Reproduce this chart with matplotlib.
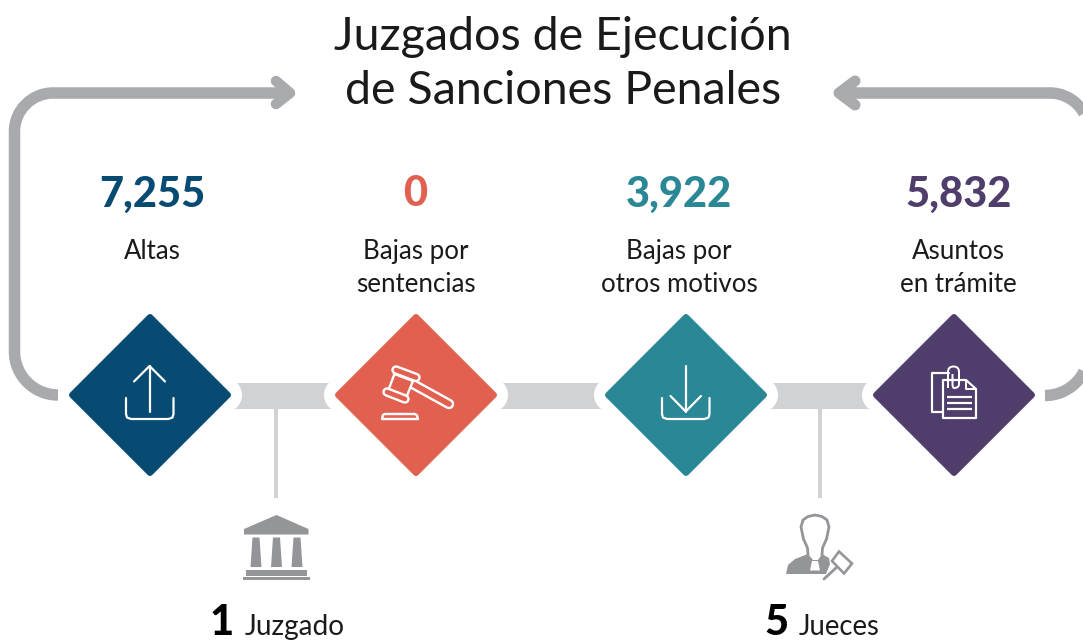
import matplotlib
matplotlib.use("Agg")
import matplotlib.pyplot as plt
from matplotlib.patches import Polygon, Circle, Rectangle
from matplotlib.path import Path

plt.rcParams["font.family"] = ["Lato", "DejaVu Sans"]

# Data
title_lines = ["Juzgados de Ejecución", "de Sanciones Penales"]
values = [7255, 0, 3922, 5832]
labels = [["Altas"], ["Bajas por", "sentencias"], ["Bajas por", "otros motivos"], ["Asuntos", "en trámite"]]
colors = ["#074B73", "#E1604F", "#2A8795", "#4F3E6B"]
juzgados = 1
jueces = 5

centers = [150, 416, 686, 954]
text_x = [152, 415.5, 679, 958.5]
mid_y = 395
GREY_ARROW = "#A9AAAD"
GREY_BAR = "#D1D2D4"
GREY_ICON = "#939598"
TEXT = "#1A1A1A"
PX = 0.72  # pixels to points at dpi 100

fig = plt.figure(figsize=(10.83, 6.4), dpi=100)
ax = fig.add_axes([0, 0, 1, 1])
ax.set_xlim(0, 1083)
ax.set_ylim(640, 0)
ax.axis("off")


def line(pts, color="white", w=2.2, z=6, cap="round"):
    xs = [p[0] for p in pts]
    ys = [p[1] for p in pts]
    ax.plot(xs, ys, color=color, lw=w * PX, solid_capstyle=cap, solid_joinstyle="round", zorder=z)


# flatten curves to a polyline, agg clips raw control points at the canvas edge otherwise
def stroke_path(verts, codes, color=GREY_ARROW, w=11.5, z=1):
    pts = Path(verts, codes).to_polygons(closed_only=False)[0]
    line(pts, color, w, z, cap="butt")


# return arrows
M, L, C, C4 = Path.MOVETO, Path.LINETO, Path.CURVE3, Path.CURVE4
stroke_path([(58, 395), (34, 395), (14.5, 375.5), (14.5, 351.5), (14.5, 131.5), (14.5, 110), (32, 93), (53, 93), (290, 93)],
            [M, C4, C4, C4, L, C4, C4, C4, L])
line([(276, 81), (290, 93), (276, 104)], GREY_ARROW, 10.5, 1)
stroke_path([(1045, 395.5), (1069, 395.5), (1088.7, 376), (1088.7, 351.8), (1088.7, 131.7), (1088.7, 110), (1071, 93), (1050, 93), (840, 93)],
            [M, C4, C4, C4, L, C4, C4, C4, L])
line([(855, 81), (839, 93), (855, 105)], GREY_ARROW, 11, 1)

# connectors between the diamonds
for a, b in zip(centers[:-1], centers[1:]):
    ax.add_patch(Rectangle((a + 80, 383), b - a - 160, 26, fc=GREY_BAR, ec="none", zorder=2))
    ax.add_patch(Circle((a + 75, mid_y), 17, fc="white", ec="none", zorder=3))
    ax.add_patch(Circle((b - 75, mid_y), 17, fc="white", ec="none", zorder=3))
for x in [276, 820]:
    ax.add_patch(Rectangle((x - 2, 409), 4, 89, fc=GREY_BAR, ec="none", zorder=2))

# diamonds and numbers
for cx, tx, v, lab, col in zip(centers, text_x, values, labels, colors):
    r = 78
    ax.add_patch(Polygon([(cx - r, mid_y), (cx, mid_y - r), (cx + r, mid_y), (cx, mid_y + r)],
                         closed=True, fc=col, ec=col, lw=6 * PX, joinstyle="round", zorder=4))
    ax.text(tx, 206.5, f"{v:,}", color=col, fontsize=30, fontweight="black", ha="center", va="baseline")
    for i, t in enumerate(lab):
        ax.text(tx, 259 + i * 32.5, t, color=TEXT, fontsize=18.6, ha="center", va="baseline")

# upload icon
line([(149.5, 366), (149.5, 411.5)])
line([(134, 381.5), (149.5, 366), (165, 381.5)])
tray = lambda x0, x1: [(x0, 398), (x0, 414), (x0 + 1, 417.5), (x0 + 5, 419), (x1 - 5, 419), (x1 - 1, 417.5), (x1, 414), (x1, 398)]
line(tray(126, 173.5))

# download icon
line([(685.7, 366), (685.7, 411.5)])
line([(670.5, 396), (685.7, 411.5), (701, 396)])
line(tray(662, 709.5))


# gavel icon
def pill(p, q, width, fill):
    line([p, q], "white", width, 6)
    line([p, q], fill, width - 4.8, 6)


red = colors[1]
gavel_body = [(394.5, 374), (413, 381), (406, 398), (388, 391)]
pill((411, 383), (449, 404), 10.5, red)
ax.add_patch(Polygon(gavel_body, closed=True, fc=red, ec="white", lw=2.4 * PX, zorder=6))
pill((396, 370), (416, 377.5), 9.5, red)
pill((387, 392), (405, 399), 9.5, red)
ax.add_patch(Polygon([(382, 419), (383, 415), (384.5, 414), (415, 414), (417, 415.5), (418, 419)], closed=True,
                     fc=red, ec="white", lw=2.4 * PX, joinstyle="round", zorder=6))

# clipboard icon
purple = colors[3]
line([(950, 412), (931.5, 412), (931.5, 372.5), (949, 372.5)])
ax.add_patch(Polygon([(943, 380), (966, 380), (976, 389), (976, 418), (943, 418)], closed=True,
                     fc=purple, ec="white", lw=2.2 * PX, joinstyle="round", zorder=6))
line([(966, 380), (966, 389), (976, 389)], w=2, z=7)
for y in [396.5, 402.5, 409]:
    line([(947, y), (972, y)], w=2.2, z=7, cap="butt")
stroke_path([(948, 388), (948, 372), (948, 366.5), (953.5, 366.5), (959, 366.5), (959, 372), (959, 384), (959, 388), (954, 388), (952.5, 388), (952.5, 384), (952.5, 374)],
            [M, L, C, C, C, C, L, C, C, C, C, L], color="white", w=2, z=8)

# courthouse icon
gi = GREY_ICON
ax.add_patch(Polygon([(244, 529), (244, 534.5), (308.5, 534.5), (308.5, 529), (276.5, 515)], closed=True, fc=gi, ec="none"))
for cx in [256, 276.5, 297]:
    ax.add_patch(Polygon([(cx - 3.5, 537.5), (cx + 3.5, 537.5), (cx + 5.5, 567), (cx - 5.5, 567)], closed=True, fc=gi, ec="none"))
ax.add_patch(Rectangle((246, 570), 61, 6, fc=gi, ec="none"))
ax.add_patch(Rectangle((243, 577), 67, 3, fc=gi, ec="none"))

# judge icon
line([(808, 555), (807.5, 548), (803.5, 539), (801, 527), (803, 520), (808, 516.5), (815, 515), (822, 516.5), (827, 520),
      (829, 527), (826.5, 539), (822.5, 548), (822, 555)], gi, 2.8)
ax.add_patch(Polygon([(786, 574), (788, 565), (795, 559), (808, 554), (813, 560), (818, 560), (822, 554),
                      (829, 558), (830, 564), (826, 574)], closed=True, fc=gi, ec="none", zorder=5))
ax.add_patch(Polygon([(812, 561), (818, 561), (820, 570.5), (810, 570.5)], closed=True, fc="white", ec="none", zorder=6))
ax.add_patch(Polygon([(839, 551.5), (852, 563.5), (844, 573.5), (832, 561)], closed=True, fc="white", ec=gi, lw=2.6 * PX, zorder=6))
line([(837, 567), (824, 579)], gi, 2.8)

# titles and bottom counts
for t, y in zip(title_lines, [49.5, 104]):
    ax.text(563, y, t, color=TEXT, fontsize=33.6, ha="center", va="baseline")
ax.text(222, 635, str(juzgados), color="black", fontsize=30, fontweight="black", ha="center", va="baseline")
ax.text(245, 635, "Juzgado", color=TEXT, fontsize=20.2, ha="left", va="baseline")
ax.text(776, 635, str(jueces), color="black", fontsize=30, fontweight="black", ha="center", va="baseline")
ax.text(799, 635, "Jueces", color=TEXT, fontsize=19.8, ha="left", va="baseline")

fig.savefig("out.png", dpi=100)
